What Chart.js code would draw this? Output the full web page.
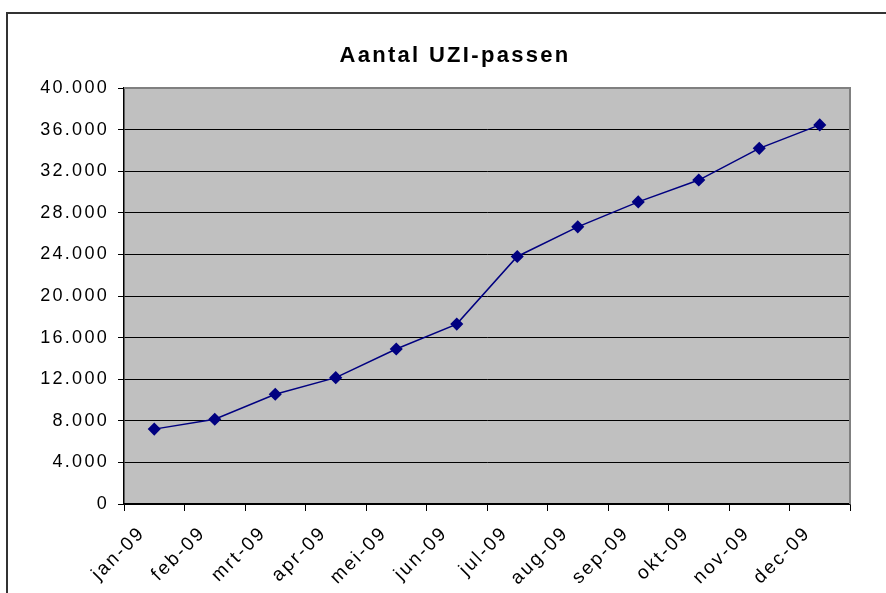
<!DOCTYPE html>
<html>
<head>
<meta charset="utf-8">
<script src="https://cdn.jsdelivr.net/npm/chart.js@4.4.1/dist/chart.umd.min.js"></script>
<style>
  html, body { margin: 0; padding: 0; background: #fff; }
  #wrap { width: 886px; height: 593px; }
</style>
</head>
<body>
<div id="wrap"><canvas id="uziChart" width="886" height="593"></canvas></div>
<script>
// Gegevens
const maanden = ["jan-09", "feb-09", "mrt-09", "apr-09", "mei-09", "jun-09",
                 "jul-09", "aug-09", "sep-09", "okt-09", "nov-09", "dec-09"];
const aantalPassen = [7200, 8150, 10550, 12150, 14900, 17300,
                      23800, 26650, 29050, 31150, 34200, 36450];
const yTicks = [0, 4000, 8000, 12000, 16000, 20000, 24000, 28000, 32000, 36000, 40000];
const titel = "Aantal UZI-passen";

// Getal met punt als scheidingsteken (40.000)
function formatNL(v) {
    return String(v).replace(/\B(?=(\d{3})+(?!\d))/g, ".");
}

// Grijze achtergrond, kader en titel
const excelLook = {
    id: "excelLook",
    beforeDraw(chart) {
        const ctx = chart.ctx;
        const a = chart.chartArea;
        ctx.save();
        ctx.fillStyle = "#fff";
        ctx.fillRect(0, 0, chart.width, chart.height);
        // buitenkader
        ctx.strokeStyle = "#333";
        ctx.lineWidth = 2;
        ctx.beginPath();
        ctx.moveTo(7, chart.height + 2);
        ctx.lineTo(7, 13);
        ctx.lineTo(chart.width + 2, 13);
        ctx.stroke();
        // plotgebied
        ctx.fillStyle = "#c0c0c0";
        ctx.fillRect(a.left, a.top, a.right - a.left, a.bottom - a.top);
        ctx.restore();
        // letterafstand voor alle teksten
        ctx.letterSpacing = "2.3px";
    },
    beforeDatasetsDraw(chart) {
        const ctx = chart.ctx;
        const a = chart.chartArea;
        ctx.save();
        ctx.strokeStyle = "#808080";
        ctx.lineWidth = 2;
        ctx.beginPath();
        ctx.moveTo(a.left, a.top);
        ctx.lineTo(a.right, a.top);
        ctx.lineTo(a.right, a.bottom);
        ctx.stroke();
        ctx.restore();
    },
    afterDraw(chart) {
        const ctx = chart.ctx;
        ctx.save();
        ctx.letterSpacing = "2.3px";
        ctx.font = "bold 22px 'Liberation Sans', Arial, sans-serif";
        ctx.fillStyle = "#000";
        ctx.textAlign = "center";
        ctx.textBaseline = "alphabetic";
        ctx.fillText(titel, 455, 62);
        ctx.restore();
    }
};

const tekstFont = { family: "'Liberation Sans', Arial, sans-serif", size: 18 };

const ctx = document.getElementById("uziChart").getContext("2d");
new Chart(ctx, {
    type: "line",
    data: {
        labels: maanden,
        datasets: [{
            label: titel,
            data: aantalPassen,
            borderColor: "#000080",
            backgroundColor: "#000080",
            borderWidth: 1.5,
            pointStyle: "rectRot",
            pointRadius: 5.5,
            pointHoverRadius: 5.5,
            pointBackgroundColor: "#000080",
            pointBorderColor: "#000080",
            tension: 0
        }]
    },
    options: {
        responsive: false,
        animation: false,
        devicePixelRatio: 1,
        layout: { padding: { top: 88, right: 36, left: 0, bottom: 0 } },
        plugins: {
            legend: { display: false },
            title: { display: false },
            tooltip: { enabled: false }
        },
        scales: {
            x: {
                type: "category",
                offset: true,
                afterFit(scale) { scale.height = 89; },
                grid: {
                    offset: true,
                    drawOnChartArea: false,
                    drawTicks: true,
                    tickLength: 7,
                    color: "#000",
                    lineWidth: 1
                },
                border: { display: true, color: "#000", width: 1.5 },
                ticks: {
                    autoSkip: false,
                    minRotation: 45,
                    maxRotation: 45,
                    labelOffset: -12,
                    padding: 11,
                    color: "#000",
                    font: { family: "'Liberation Sans', Arial, sans-serif", size: 19 }
                }
            },
            y: {
                min: 0,
                max: 40000,
                afterFit(scale) { scale.width = 124; },
                afterBuildTicks(scale) {
                    scale.ticks = yTicks.map(v => ({ value: v }));
                },
                grid: {
                    color: "#000",
                    lineWidth: 1,
                    drawTicks: true,
                    tickLength: 6
                },
                border: { display: true, color: "#000", width: 1.5 },
                ticks: {
                    padding: 9,
                    color: "#000",
                    font: tekstFont,
                    callback: v => formatNL(v)
                }
            }
        }
    },
    plugins: [excelLook]
});
</script>
</body>
</html>
